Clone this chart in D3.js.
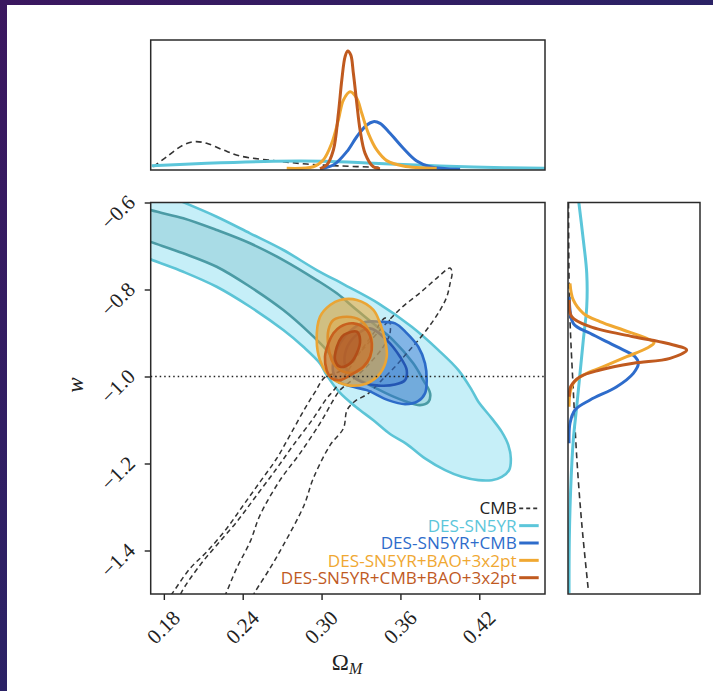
<!DOCTYPE html>
<html><head><meta charset="utf-8">
<script src="https://cdn.jsdelivr.net/npm/d3@7"></script>
<style>html,body{margin:0;padding:0;background:#fff;overflow:hidden}svg{display:block}</style>
</head><body>
<svg id="chart" width="713" height="691"></svg>
<script>
// ---------------- DATA ----------------
const xTicks = [0.18, 0.24, 0.30, 0.36, 0.42];
const yTicks = [-0.6, -0.8, -1.0, -1.2, -1.4];
const seriesNames = ["CMB", "DES-SN5YR", "DES-SN5YR+CMB", "DES-SN5YR+BAO+3x2pt", "DES-SN5YR+CMB+BAO+3x2pt"];
const seriesColors = ["#333333", "#5cc6da", "#2e6ccb", "#f0a832", "#c05a1f"];

// 2D contours [Omega_M, w]
const snOuter = [[0.1466,-0.539],[0.1695,-0.569],[0.1936,-0.598],[0.2202,-0.6327],[0.2456,-0.6708],[0.2709,-0.7092],[0.2963,-0.7552],[0.3179,-0.7898],[0.3432,-0.8318],[0.3686,-0.8857],[0.3889,-0.9393],[0.4041,-0.9853],[0.4143,-1.0313],[0.4193,-1.0582],[0.4295,-1.0963],[0.4371,-1.1272],[0.4421,-1.1578],[0.4440,-1.1883],[0.4427,-1.2153],[0.4371,-1.2307],[0.4295,-1.2383],[0.4193,-1.2383],[0.4067,-1.2307],[0.3940,-1.2153],[0.3787,-1.1883],[0.3648,-1.1553],[0.3521,-1.1322],[0.3392,-1.1000],[0.3262,-1.0701],[0.3141,-1.0379],[0.3039,-0.9968],[0.2988,-0.9698],[0.2861,-0.9317],[0.2709,-0.8933],[0.2456,-0.8397],[0.2202,-0.7937],[0.1948,-0.7592],[0.1695,-0.7300],[0.1466,-0.7000]];
const snInner = [[0.1466,-0.592],[0.1700,-0.6173],[0.1948,-0.6363],[0.2202,-0.6633],[0.2456,-0.6938],[0.2709,-0.7323],[0.2963,-0.7783],[0.3116,-0.8088],[0.3268,-0.8473],[0.3392,-0.8778],[0.3544,-0.9163],[0.3696,-0.9692],[0.3774,-1.0083],[0.3826,-1.0388],[0.3813,-1.0582],[0.3749,-1.0658],[0.3648,-1.0582],[0.3521,-1.0428],[0.3392,-1.0237],[0.3268,-1.0043],[0.3141,-0.9777],[0.3039,-0.9393],[0.2912,-0.9008],[0.2709,-0.8473],[0.2456,-0.7937],[0.2202,-0.7477],[0.1948,-0.7168],[0.1695,-0.6902],[0.1466,-0.6656]];
const cmbOuter = [[0.1816,-1.5189],[0.1872,-1.4952],[0.1999,-1.4413],[0.2126,-1.4032],[0.2278,-1.3493],[0.2405,-1.2958],[0.2532,-1.2422],[0.2659,-1.1883],[0.2760,-1.1348],[0.2874,-1.0733],[0.2950,-1.0359],[0.3026,-1.0014],[0.3141,-0.9876],[0.3293,-0.9439],[0.3445,-0.8933],[0.3597,-0.8450],[0.3765,-0.8036],[0.3886,-0.7714],[0.3978,-0.7507],[0.3993,-0.7622],[0.3978,-0.7858],[0.3953,-0.8167],[0.3902,-0.8473],[0.3826,-0.8818],[0.3737,-0.9163],[0.3648,-0.9468],[0.3559,-0.9777],[0.3458,-1.0083],[0.3356,-1.0388],[0.3255,-1.0566],[0.3194,-1.0773],[0.3166,-1.1193],[0.3065,-1.1578],[0.2937,-1.2343],[0.2867,-1.2958],[0.2709,-1.3878],[0.2608,-1.4407],[0.2494,-1.4952],[0.2463,-1.5138]];
const cmbInner = [[0.1908,-1.5189],[0.1936,-1.4952],[0.2075,-1.4338],[0.2202,-1.3878],[0.2354,-1.3343],[0.2507,-1.2728],[0.2659,-1.2113],[0.2785,-1.1578],[0.2937,-1.0963],[0.3039,-1.0503],[0.3087,-1.0336],[0.3179,-0.9968],[0.3293,-0.9439],[0.3407,-0.8956],[0.3483,-0.8656],[0.3514,-0.8701],[0.3521,-0.9001],[0.3468,-0.9323],[0.3354,-0.9736],[0.3232,-1.0083],[0.3141,-1.0310],[0.3090,-1.0540],[0.2988,-1.1076],[0.2836,-1.1766],[0.2684,-1.2383],[0.2532,-1.3188],[0.2456,-1.3802],[0.2354,-1.4407],[0.2278,-1.4952],[0.2250,-1.5138]];
const snCmbOuter = [[0.3331,-0.8749],[0.3445,-0.8742],[0.3559,-0.8778],[0.3648,-0.9002],[0.3736,-0.9317],[0.3787,-0.9698],[0.3800,-1.0083],[0.3787,-1.0388],[0.3734,-1.0566],[0.3635,-1.0635],[0.3506,-1.0543],[0.3344,-1.0313],[0.3217,-1.0221],[0.3126,-1.0106],[0.3088,-0.9898],[0.3095,-0.9577],[0.3141,-0.9232],[0.3217,-0.8956]];
const snCmbInner = [[0.3369,-0.8893],[0.3496,-0.9163],[0.3597,-0.9547],[0.3648,-0.9853],[0.3635,-1.0083],[0.3559,-1.0186],[0.3432,-1.0209],[0.3331,-1.0152],[0.3233,-0.9991],[0.3179,-0.9738],[0.3186,-0.9393],[0.3255,-0.9071]];
const snBaoOuter = [[0.3141,-0.8241],[0.3268,-0.8241],[0.3394,-0.8471],[0.3445,-0.8778],[0.3483,-0.9163],[0.3496,-0.9547],[0.3445,-0.9929],[0.3344,-1.0159],[0.3192,-1.0198],[0.3065,-1.0007],[0.2988,-0.9623],[0.2963,-0.9163],[0.2988,-0.8627],[0.3065,-0.8358]];
const snBaoInner = [[0.3090,-0.8701],[0.3192,-0.8625],[0.3293,-0.8701],[0.3369,-0.9008],[0.3382,-0.9393],[0.3344,-0.9698],[0.3268,-0.9892],[0.3166,-0.9892],[0.3090,-0.9698],[0.3052,-0.9317],[0.3052,-0.8933]];
const allOuter = [[0.3141,-0.8857],[0.3242,-0.8778],[0.3344,-0.8933],[0.3382,-0.9239],[0.3369,-0.9547],[0.3318,-0.9777],[0.3232,-0.9945],[0.3141,-1.0083],[0.3077,-1.0044],[0.3039,-0.9853],[0.3026,-0.9547],[0.3052,-0.9239],[0.3090,-0.9008]];
const allInner = [[0.3192,-0.9008],[0.3268,-0.8971],[0.3293,-0.9163],[0.3268,-0.9468],[0.3217,-0.9698],[0.3141,-0.9777],[0.3103,-0.9623],[0.3116,-0.9317],[0.3154,-0.9087]];

// 1D marginal of Omega_M [Omega_M, relative density]
const omCMB = [[0.1720,0.025],[0.1822,0.102],[0.1948,0.192],[0.2037,0.218],[0.2126,0.205],[0.2252,0.154],[0.2380,0.108],[0.2633,0.072],[0.2887,0.046],[0.3141,0.031],[0.3445,0.021]];
const omSN = [[0.1708,0.033],[0.2126,0.052],[0.2633,0.067],[0.3013,0.067],[0.3394,0.052],[0.3775,0.036],[0.4155,0.023],[0.4701,0.013]];
const omSNCMB = [[0.2988,0.010],[0.3090,0.038],[0.3192,0.141],[0.3268,0.256],[0.3344,0.346],[0.3394,0.372],[0.3445,0.359],[0.3521,0.282],[0.3622,0.167],[0.3724,0.069],[0.3826,0.025],[0.4054,0.005]];
const omSNBAO = [[0.2735,0.013],[0.2937,0.025],[0.3013,0.077],[0.3077,0.205],[0.3128,0.385],[0.3166,0.538],[0.3217,0.602],[0.3268,0.551],[0.3306,0.436],[0.3356,0.282],[0.3420,0.154],[0.3496,0.072],[0.3622,0.031],[0.3876,0.013]];
const omAll = [[0.2988,0.010],[0.3039,0.038],[0.3090,0.154],[0.3128,0.436],[0.3154,0.692],[0.3179,0.872],[0.3199,0.915],[0.3222,0.885],[0.3242,0.744],[0.3268,0.513],[0.3293,0.308],[0.3331,0.128],[0.3394,0.025],[0.3445,0.010]];

// 1D marginal of w [relative density, w]
const wCMB = [[0.004,-0.600],[0.008,-0.7782],[0.017,-0.8855],[0.040,-1.031],[0.066,-1.1844],[0.104,-1.3375],[0.154,-1.4908]];
const wSN = [[0.078,-0.590],[0.116,-0.6862],[0.142,-0.7628],[0.142,-0.8396],[0.116,-0.9161],[0.091,-0.9927],[0.066,-1.0694],[0.040,-1.1460],[0.020,-1.2609],[0.010,-1.3759],[0.008,-1.4977]];
const wSNCMB = [[0.010,-0.8166],[0.040,-0.8777],[0.167,-0.9007],[0.369,-0.9315],[0.508,-0.9545],[0.533,-0.9697],[0.495,-0.9927],[0.369,-1.0235],[0.167,-1.0540],[0.053,-1.0770],[0.015,-1.1076],[0.008,-1.1536]];
const wSNBAO = [[0.015,-0.7858],[0.040,-0.8241],[0.116,-0.8547],[0.242,-0.8740],[0.419,-0.8931],[0.596,-0.9122],[0.652,-0.9222],[0.596,-0.9352],[0.445,-0.9545],[0.268,-0.9775],[0.116,-0.9966],[0.040,-1.0157],[0.015,-1.0387],[0.008,-1.0694]];
const wAll = [[0.010,-0.8241],[0.028,-0.8625],[0.167,-0.8855],[0.495,-0.9085],[0.748,-0.9237],[0.899,-0.9391],[0.773,-0.9582],[0.495,-0.9697],[0.242,-0.9851],[0.091,-1.0005],[0.020,-1.0235],[0.010,-1.0465]];

// ---------------- LAYOUT ----------------
const W = 713, H = 691;
const M = {l: 150.7, t: 202.5, r: 545, b: 594};
const T = {t: 40, b: 170};
const R = {l: 568, r: 700};

const svg = d3.select("#chart");
const defs = svg.append("defs");
const grad = defs.append("linearGradient").attr("id","bg").attr("x1",0).attr("y1",0).attr("x2",1).attr("y2",1);
grad.append("stop").attr("offset","0%").attr("stop-color","#3b175f");
grad.append("stop").attr("offset","100%").attr("stop-color","#1b2d6c");
svg.append("rect").attr("width",W).attr("height",H).attr("fill","url(#bg)");
svg.append("rect").attr("x",7).attr("y",5).attr("width",W-7).attr("height",H-5).attr("fill","#fff");

const x = d3.scaleLinear().domain([0.17, 0.47]).range([M.l, M.r]);
const y = d3.scaleLinear().domain([-1.5, -0.6]).range([M.b, M.t]);
const yTop = d3.scaleLinear().domain([0, 1]).range([T.b, T.t]);
const xRight = d3.scaleLinear().domain([0, 1]).range([R.l, R.r]);

function clip(id, x0, y0, x1, y1) {
  defs.append("clipPath").attr("id", id).append("rect")
    .attr("x", x0).attr("y", y0).attr("width", x1 - x0).attr("height", y1 - y0);
}
clip("cMain", M.l, M.t, M.r, M.b);
clip("cTop", M.l, T.t, M.r, T.b);
clip("cRight", R.l, M.t, R.r, M.b);

// ---------------- MAIN PANEL ----------------
const gMain = svg.append("g").attr("clip-path", "url(#cMain)");
const closed = d3.line().x(d => x(d[0])).y(d => y(d[1])).curve(d3.curveCatmullRomClosed.alpha(0.5));
const open = d3.line().x(d => x(d[0])).y(d => y(d[1])).curve(d3.curveCatmullRom.alpha(0.5));

function contour(data, fill, fo, stroke) {
  gMain.append("path").attr("d", closed(data)).attr("fill", fill).attr("fill-opacity", fo)
    .attr("stroke", stroke).attr("stroke-width", 2.6).attr("stroke-linejoin", "round");
}
contour(snOuter, "#c6eff8", 1, "#5cc4d6");
contour(snInner, "#a9dce6", 1, "#4b9ba5");
[cmbOuter, cmbInner].forEach(d => gMain.append("path").attr("d", open(d)).attr("fill", "none")
  .attr("stroke", "#333").attr("stroke-width", 1.5).attr("stroke-dasharray", "5,3.5"));
contour(snCmbOuter, "#2f6fd0", 0.45, "#2c6bc8");
contour(snCmbInner, "#2f6fd0", 0.3, "#2456b3");
contour(snBaoOuter, "#f0a830", 0.55, "#eaa535");
contour(snBaoInner, "#e8a030", 0.35, "#e0922c");
contour(allOuter, "#c25a1c", 0.45, "#c8601e");
contour(allInner, "#a8481a", 0.45, "#b24d18");

// w = -1 reference line
svg.append("line").attr("x1", M.l).attr("x2", M.r).attr("y1", y(-1)).attr("y2", y(-1))
  .attr("stroke", "#222").attr("stroke-width", 1.5).attr("stroke-dasharray", "1.5,3");

// axes
const fmtX = d3.format(".2f"), fmtY = d3.format(".1f");
const ax = svg.append("g").attr("transform", `translate(0,${M.b})`)
  .call(d3.axisBottom(x).tickValues(xTicks).tickFormat(fmtX).tickSize(6));
const ay = svg.append("g").attr("transform", `translate(${M.l},0)`)
  .call(d3.axisLeft(y).tickValues(yTicks).tickFormat(fmtY).tickSize(6));
[ax, ay].forEach(g => {
  g.select(".domain").remove();
  g.selectAll(".tick line").attr("stroke", "#222").attr("stroke-width", 1.4);
  g.selectAll("text").attr("font-family", "'Liberation Serif', serif").attr("font-size", 21)
    .attr("fill", "#222").attr("text-anchor", "middle").attr("dy", "0.35em").attr("x", 0).attr("y", 0);
});
ax.selectAll("text").attr("transform", "translate(-1,33) rotate(-45)");
ay.selectAll("text").attr("transform", "translate(-33,9) rotate(-45)");

// axis labels
const xl = svg.append("text").attr("x", 347).attr("y", 670).attr("text-anchor", "middle")
  .attr("font-family", "'Liberation Serif', serif").attr("font-size", 23).attr("fill", "#222");
xl.append("tspan").text("Ω");
xl.append("tspan").attr("font-style", "italic").attr("font-size", 16).attr("dy", 4).text("M");
svg.append("text").attr("transform", "translate(83,385) rotate(-90)").attr("text-anchor", "middle")
  .attr("font-family", "'Liberation Serif', serif").attr("font-style", "italic").attr("font-size", 23)
  .attr("fill", "#222").text("w");

// legend
const legendStyles = [{dash: "4,3", w: 1.8}, {dash: null, w: 3}, {dash: null, w: 3}, {dash: null, w: 3}, {dash: null, w: 3}];
const lg = svg.append("g");
const rowY0 = 508.3, rowStep = 17.35, textEnd = 516.7;
seriesNames.forEach((name, i) => {
  const yy = rowY0 + i * rowStep;
  lg.append("text").attr("class", "lgt").attr("x", textEnd).attr("y", yy).attr("dy", "0.36em")
    .attr("text-anchor", "end").attr("font-family", "'Open Sans', sans-serif").attr("font-size", 15)
    .attr("fill", i === 0 ? "#222" : seriesColors[i]).text(name);
  const ln = lg.append("line").attr("x1", textEnd + 2.5).attr("x2", textEnd + 22).attr("y1", yy).attr("y2", yy)
    .attr("stroke", seriesColors[i]).attr("stroke-width", legendStyles[i].w);
  if (legendStyles[i].dash) ln.attr("stroke-dasharray", legendStyles[i].dash);
});
const longest = lg.selectAll(".lgt").filter((d, i) => i === 4).node();
const wl = longest.getComputedTextLength();
const fs = 15 * 236 / wl;
lg.selectAll(".lgt").attr("font-size", fs);

// ---------------- TOP MARGINAL ----------------
const gTop = svg.append("g").attr("clip-path", "url(#cTop)");
const lineTop = d3.line().x(d => x(d[0])).y(d => yTop(d[1])).curve(d3.curveCatmullRom.alpha(0.5));
const topSeries = [omCMB, omSN, omSNCMB, omSNBAO, omAll];
topSeries.forEach((d, i) => {
  const p = gTop.append("path").attr("d", lineTop(d)).attr("fill", "none")
    .attr("stroke", seriesColors[i]).attr("stroke-width", i === 0 ? 1.6 : 3);
  if (i === 0) p.attr("stroke-dasharray", "6,4");
});

// ---------------- RIGHT MARGINAL ----------------
const gRight = svg.append("g").attr("clip-path", "url(#cRight)");
const lineRight = d3.line().x(d => xRight(d[0])).y(d => y(d[1])).curve(d3.curveCatmullRom.alpha(0.5));
const rightSeries = [wCMB, wSN, wSNCMB, wSNBAO, wAll];
rightSeries.forEach((d, i) => {
  const p = gRight.append("path").attr("d", lineRight(d)).attr("fill", "none")
    .attr("stroke", seriesColors[i]).attr("stroke-width", i === 0 ? 1.6 : 3);
  if (i === 0) p.attr("stroke-dasharray", "6,4");
});

// frames
[[M.l, T.t, M.r, T.b], [M.l, M.t, M.r, M.b], [R.l, M.t, R.r, M.b]].forEach(f => {
  svg.append("rect").attr("x", f[0]).attr("y", f[1]).attr("width", f[2] - f[0]).attr("height", f[3] - f[1])
    .attr("fill", "none").attr("stroke", "#2a2a2a").attr("stroke-width", 1.5);
});
</script>
</body></html>
